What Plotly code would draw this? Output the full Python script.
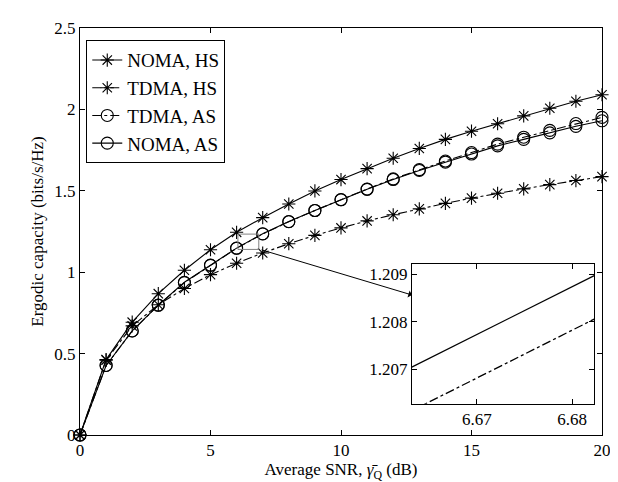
import plotly.graph_objects as go

snr_db = list(range(0, 21))
noma_hs = [0, 0.463, 0.693, 0.868, 1.012, 1.138, 1.245, 1.335, 1.419, 1.499, 1.569,
           1.636, 1.700, 1.760, 1.816, 1.866, 1.912, 1.960, 2.007, 2.050, 2.090]
tdma_hs = [0, 0.460, 0.670, 0.800, 0.900, 0.985, 1.055, 1.118, 1.175, 1.226, 1.272,
           1.315, 1.353, 1.389, 1.423, 1.455, 1.485, 1.512, 1.538, 1.563, 1.587]
tdma_as = [0, 0.427, 0.639, 0.797, 0.936, 1.042, 1.147, 1.235, 1.310, 1.379, 1.446,
           1.511, 1.573, 1.630, 1.683, 1.735, 1.787, 1.829, 1.871, 1.913, 1.951]
noma_as = [0, 0.427, 0.639, 0.798, 0.938, 1.044, 1.148, 1.236, 1.311, 1.379, 1.445,
           1.509, 1.569, 1.625, 1.676, 1.726, 1.776, 1.816, 1.856, 1.896, 1.930]

# zoomed-in detail (inset)
zoom_x = [6.660, 6.685]
zoom_noma_as = [1.20672, 1.20925]
zoom_tdma_as = [1.20580, 1.20833]

x_ticks = [0, 5, 10, 15, 20]
y_ticks = [0, 0.5, 1, 1.5, 2, 2.5]
y_tick_text = ["0", "0.5", "1", "1.5", "2", "2.5"]
zx_ticks = [6.67, 6.68]
zy_ticks = [1.207, 1.208, 1.209]

FONT = "Liberation Serif"

fig = go.Figure()

series = [
    ("NOMA, HS", noma_hs, "solid", "asterisk-open", 11),
    ("TDMA, HS", tdma_hs, "dashdot", "asterisk-open", 11),
    ("TDMA, AS", tdma_as, "dashdot", "circle-open", 12),
    ("NOMA, AS", noma_as, "solid", "circle-open", 12),
]
for name, ys, dash, sym, size in series:
    fig.add_trace(go.Scatter(
        x=snr_db, y=ys, name=name, mode="lines+markers",
        line=dict(color="black", width=1.1, dash=dash),
        marker=dict(symbol=sym, size=size, color="black", line=dict(color="black", width=1.1)),
        cliponaxis=False, xaxis="x", yaxis="y"))

fig.add_trace(go.Scatter(x=zoom_x, y=zoom_noma_as, mode="lines", showlegend=False,
                         line=dict(color="black", width=1.3, dash="solid"),
                         xaxis="x2", yaxis="y2"))
fig.add_trace(go.Scatter(x=zoom_x, y=zoom_tdma_as, mode="lines", showlegend=False,
                         line=dict(color="black", width=1.3, dash="dashdot"),
                         xaxis="x2", yaxis="y2"))

axis_common = dict(showline=True, linecolor="black", linewidth=1, mirror="allticks",
                   ticks="inside", ticklen=5, tickcolor="black", showgrid=False,
                   zeroline=False, tickfont=dict(family=FONT, size=17, color="black"))

fig.update_layout(
    width=618, height=482,
    margin=dict(l=72, r=24, t=11, b=55),
    paper_bgcolor="white", plot_bgcolor="white",
    font=dict(family=FONT, size=17, color="black"),
    xaxis=dict(range=[0, 20], tickvals=x_ticks, domain=[0, 1],
               title=dict(text="Average SNR, <i>γ̄</i><sub>Q</sub> (dB)",
                          font=dict(family=FONT, size=17), standoff=0),
               **axis_common),
    yaxis=dict(range=[0, 2.5], tickvals=y_ticks, ticktext=y_tick_text, domain=[0, 1],
               title=dict(text="Ergodic capacity (bits/s/Hz)",
                          font=dict(family=FONT, size=17), standoff=6),
               **axis_common),
    xaxis2=dict(range=[6.6632, 6.6823], tickvals=zx_ticks, ticktext=["6.67", "6.68"],
                domain=[0.636, 0.985], anchor="y2", **axis_common),
    yaxis2=dict(range=[1.20627, 1.20923], tickvals=zy_ticks, ticktext=["1.207", "1.208", "1.209"],
                domain=[0.077, 0.421], anchor="x2", **axis_common),
    legend=dict(x=0.012, y=0.97, xanchor="left", yanchor="top",
                bgcolor="white", bordercolor="black", borderwidth=1,
                font=dict(family=FONT, size=19, color="black"), tracegroupgap=0),
    showlegend=True,
)

# small zoom rectangle and arrow to the inset
fig.add_shape(type="rect", xref="x", yref="y", x0=6.05, x1=6.85, y0=1.14, y1=1.234,
              line=dict(color="#808080", width=1))
fig.add_annotation(x=12.72, y=0.86, xref="x", yref="y", ax=6.9, ay=1.14,
                   axref="x", ayref="y", showarrow=True, arrowhead=1, arrowsize=1.2,
                   arrowwidth=1, arrowcolor="black", text="", standoff=0)

fig.write_html("out.html")
